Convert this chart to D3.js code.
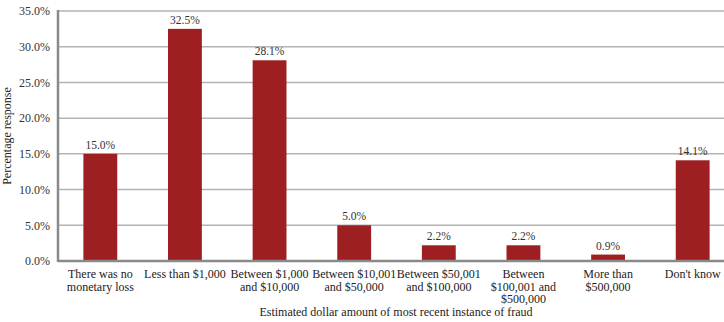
<!DOCTYPE html>
<html><head><meta charset="utf-8">
<script src="https://cdn.jsdelivr.net/npm/d3@7"></script>
<style>body{margin:0;background:#fff}svg{display:block}text{font-family:"Liberation Serif","Times New Roman",serif}</style>
</head><body>
<svg id="c" width="724" height="322"></svg>
<script>
const categories = [
  ["There was no","monetary loss"],
  ["Less than $1,000"],
  ["Between $1,000","and $10,000"],
  ["Between $10,001","and $50,000"],
  ["Between $50,001","and $100,000"],
  ["Between","$100,001 and","$500,000"],
  ["More than","$500,000"],
  ["Don't know"]
];
const values = [15.0, 32.5, 28.1, 5.0, 2.2, 2.2, 0.9, 14.1];
const yTicks = [0,5,10,15,20,25,30,35];
const xTitle = "Estimated dollar amount of most recent instance of fraud";
const yTitle = "Percentage response";

const svg = d3.select("#c");
const W = 724, H = 322;
const m = {l:58, r:-11, t:11, b:61};
const x = d3.scaleBand().domain(categories.map((d,i)=>i)).range([m.l, W-m.r]).paddingInner(0.6).paddingOuter(0.3);
const y = d3.scaleLinear().domain([0,35]).range([H-m.b, m.t]);

svg.append("g").selectAll("line").data(yTicks.filter(d=>d>0)).join("line")
  .attr("x1", m.l).attr("x2", W).attr("y1", d=>y(d)).attr("y2", d=>y(d))
  .attr("stroke","#b4b4b4").attr("stroke-width",1.5);

svg.append("g").selectAll("rect").data(values).join("rect")
  .attr("x",(d,i)=>x(i)).attr("width",x.bandwidth())
  .attr("y",d=>y(d)).attr("height",d=>y(0)-y(d))
  .attr("fill","#9e1f22");

svg.append("g").selectAll("text").data(values).join("text")
  .attr("x",(d,i)=>x(i)+x.bandwidth()/2).attr("y",d=>y(d)-5)
  .attr("text-anchor","middle").attr("font-size",11.5).attr("fill","#333")
  .text(d=>d.toFixed(1)+"%");

const ya = svg.append("g").attr("transform",`translate(${m.l},0)`)
  .call(d3.axisLeft(y).tickValues(yTicks).tickFormat(d=>d.toFixed(1)+"%").tickSize(0).tickPadding(8));
ya.select(".domain").remove();
ya.selectAll("text").attr("font-size",12).attr("fill","#333").style("font-family",'"Liberation Serif",serif');

svg.append("line").attr("x1",m.l).attr("x2",m.l).attr("y1",m.t-1).attr("y2",y(0)+1)
  .attr("stroke","#8a8a8a").attr("stroke-width",2.5);
svg.append("line").attr("x1",m.l).attr("x2",W).attr("y1",y(0)).attr("y2",y(0))
  .attr("stroke","#8a8a8a").attr("stroke-width",2.5);

const xl = svg.append("g").selectAll("text").data(categories).join("text")
  .attr("x",(d,i)=>x(i)+x.bandwidth()/2).attr("y",y(0)+17)
  .attr("text-anchor","middle").attr("font-size",12).attr("fill","#222");
xl.selectAll("tspan").data(d=>d).join("tspan")
  .attr("x",function(){return this.parentNode.getAttribute("x");})
  .attr("dy",(d,i)=>i===0?0:12.5).text(d=>d);

svg.append("text").attr("x",396).attr("y",316).attr("text-anchor","middle")
  .attr("font-size",12).attr("fill","#222").text(xTitle);
svg.append("text").attr("transform",`translate(11,${(m.t+y(0))/2}) rotate(-90)`)
  .attr("text-anchor","middle").attr("font-size",12).attr("fill","#222").text(yTitle);
</script>
</body></html>
